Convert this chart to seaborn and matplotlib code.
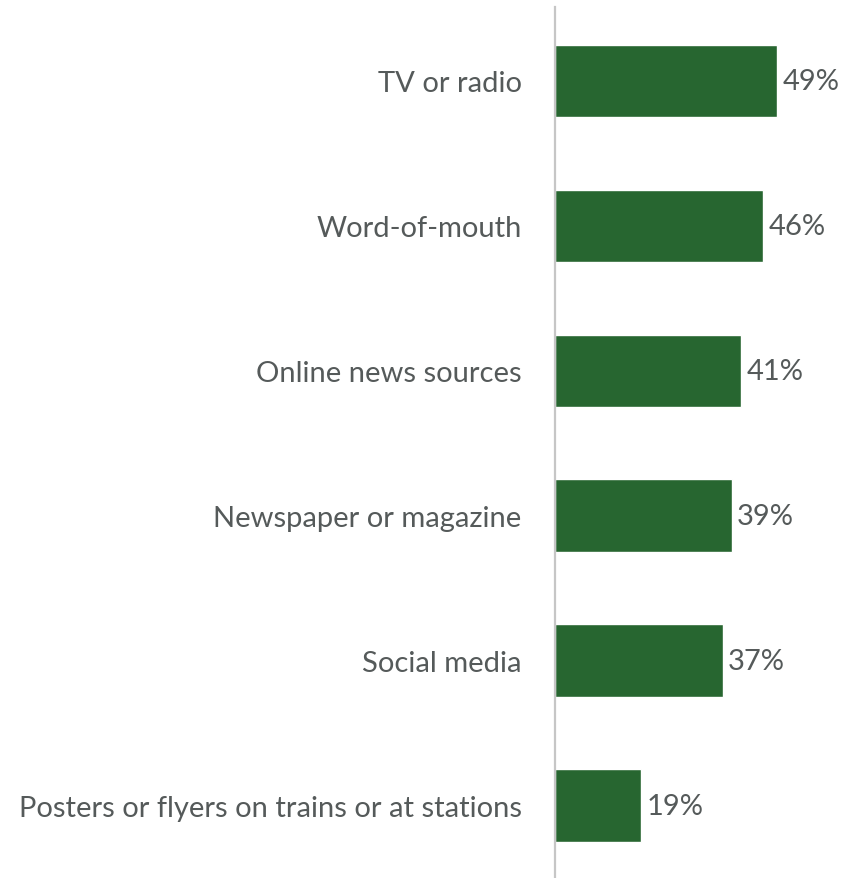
import matplotlib
matplotlib.use("Agg")
import matplotlib.pyplot as plt
import seaborn as sns
import pandas as pd

categories = [
    "TV or radio",
    "Word-of-mouth",
    "Online news sources",
    "Newspaper or magazine",
    "Social media",
    "Posters or flyers on trains or at stations",
]
values = [49, 46, 41, 39, 37, 19]

df = pd.DataFrame({"source": categories, "pct": values})

sns.set_theme(style="white")
plt.rcParams["font.family"] = ["Lato", "DejaVu Sans"]

text_color = "#555a5a"
bar_color = "#276630"
font_size = 21

fig = plt.figure(figsize=(8.46, 8.79), dpi=100)
ax = fig.add_axes([555 / 846, 0.0, 1 - 555 / 846, 1 - 8 / 879])

sns.barplot(data=df, x="pct", y="source", orient="h", color=bar_color,
            width=0.5, saturation=1, ax=ax)

ax.set_xlim(0, (846 - 555) / 4.53)
ax.set_ylim(5.5, -0.51)

for i, v in enumerate(values):
    ax.annotate(f"{v}%", xy=(v, i), xytext=(4, 0), textcoords="offset points",
                va="center", ha="left", fontsize=font_size, color=text_color)

ax.set_xlabel("")
ax.set_ylabel("")
ax.set_xticks([])
ax.tick_params(axis="y", length=0, pad=24, labelsize=font_size, labelcolor=text_color)

for side in ["top", "right", "bottom"]:
    ax.spines[side].set_visible(False)
ax.spines["left"].set_color("#c6c6c6")
ax.spines["left"].set_linewidth(1.6)

fig.savefig("out.png", dpi=100)
